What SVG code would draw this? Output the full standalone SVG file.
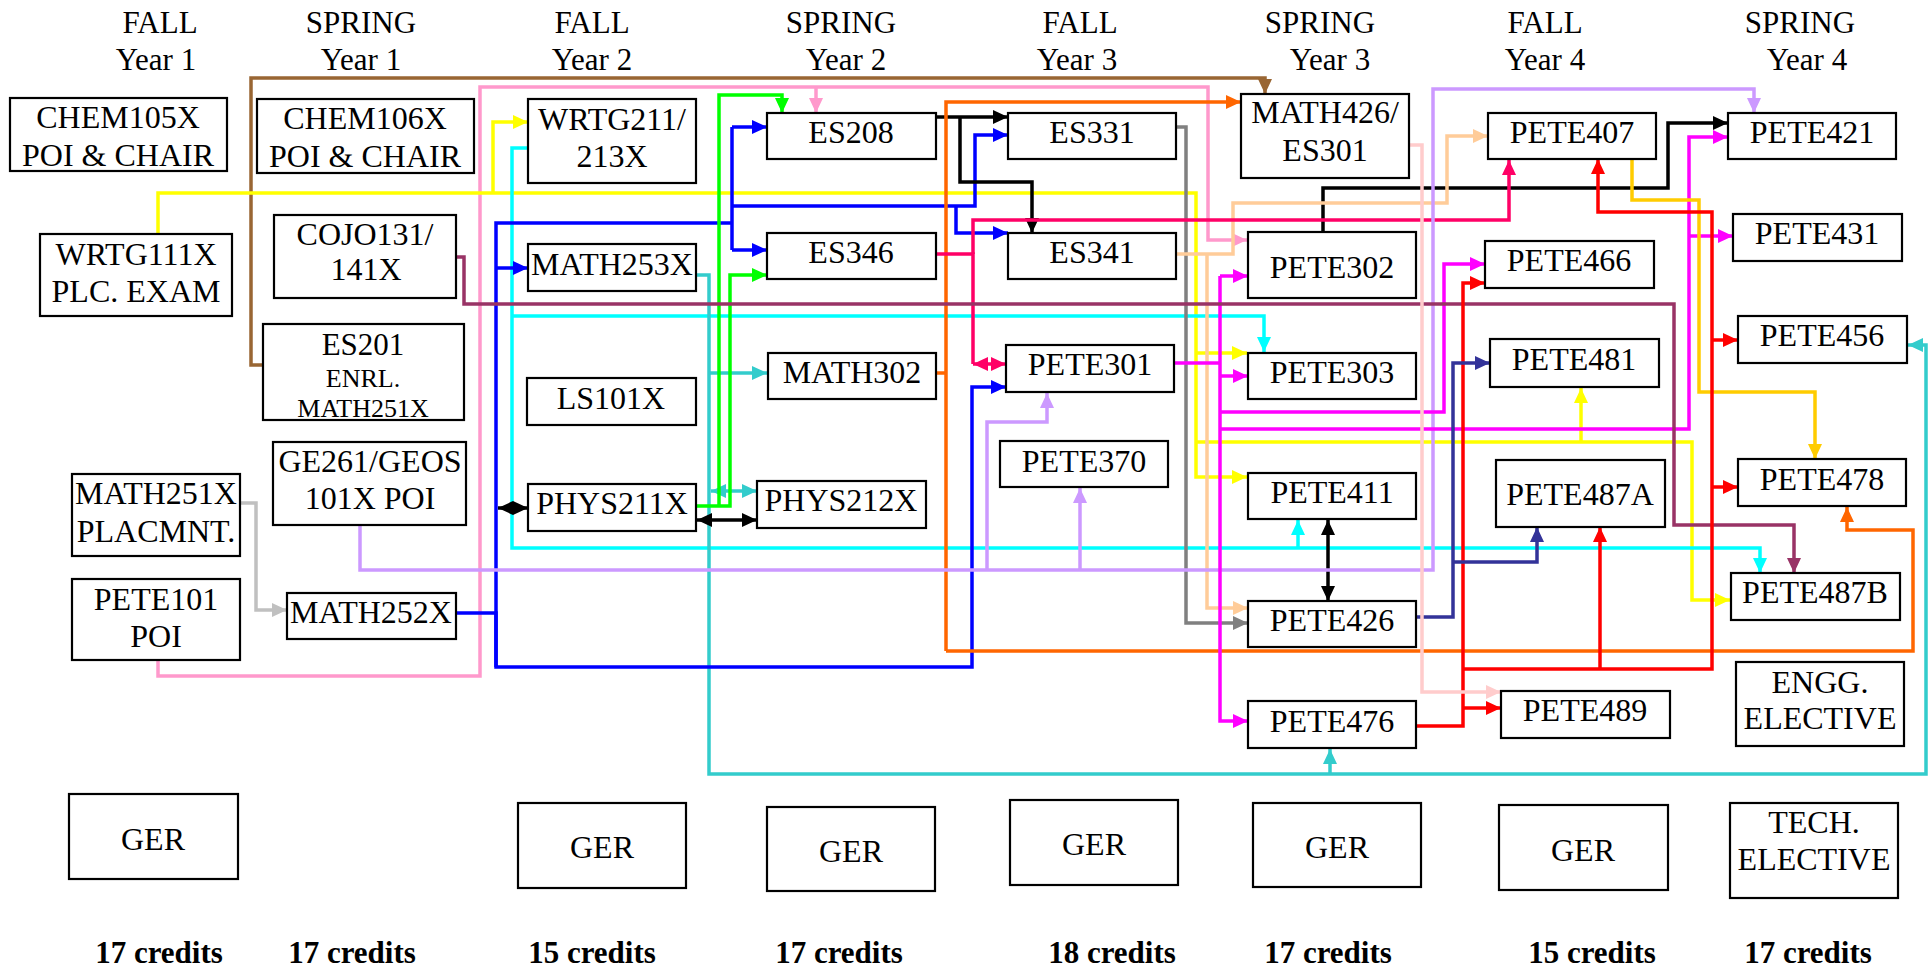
<svg xmlns="http://www.w3.org/2000/svg" width="1932" height="971" viewBox="0 0 1932 971" font-family="Liberation Serif, DejaVu Serif, serif">
<style>
.bg{fill:#fff}
.n rect{fill:#fff;stroke:#000;stroke-width:2.2}
text{font-family:'Liberation Serif','DejaVu Serif',serif;fill:#000;text-anchor:middle}
.t{font-size:32px}
.s{font-size:26px}
.h{font-size:31px}
.cr{font-size:31px;font-weight:bold}
.c path{fill:none;stroke-width:3.5;stroke-linejoin:miter}
</style>
<defs>
<marker id="m-brown" viewBox="0 0 15 14" refX="15" refY="7" markerWidth="15" markerHeight="14" markerUnits="userSpaceOnUse" orient="auto-start-reverse"><path d="M0,0L15,7L0,14z" fill="#996633"/></marker>
<marker id="m-pink" viewBox="0 0 15 14" refX="15" refY="7" markerWidth="15" markerHeight="14" markerUnits="userSpaceOnUse" orient="auto-start-reverse"><path d="M0,0L15,7L0,14z" fill="#FF99CC"/></marker>
<marker id="m-yellow" viewBox="0 0 15 14" refX="15" refY="7" markerWidth="15" markerHeight="14" markerUnits="userSpaceOnUse" orient="auto-start-reverse"><path d="M0,0L15,7L0,14z" fill="#FFFF00"/></marker>
<marker id="m-cyan" viewBox="0 0 15 14" refX="15" refY="7" markerWidth="15" markerHeight="14" markerUnits="userSpaceOnUse" orient="auto-start-reverse"><path d="M0,0L15,7L0,14z" fill="#00FFFF"/></marker>
<marker id="m-teal" viewBox="0 0 15 14" refX="15" refY="7" markerWidth="15" markerHeight="14" markerUnits="userSpaceOnUse" orient="auto-start-reverse"><path d="M0,0L15,7L0,14z" fill="#33CCCC"/></marker>
<marker id="m-blue" viewBox="0 0 15 14" refX="15" refY="7" markerWidth="15" markerHeight="14" markerUnits="userSpaceOnUse" orient="auto-start-reverse"><path d="M0,0L15,7L0,14z" fill="#0000FF"/></marker>
<marker id="m-green" viewBox="0 0 15 14" refX="15" refY="7" markerWidth="15" markerHeight="14" markerUnits="userSpaceOnUse" orient="auto-start-reverse"><path d="M0,0L15,7L0,14z" fill="#00FF00"/></marker>
<marker id="m-black" viewBox="0 0 15 14" refX="15" refY="7" markerWidth="15" markerHeight="14" markerUnits="userSpaceOnUse" orient="auto-start-reverse"><path d="M0,0L15,7L0,14z" fill="#000000"/></marker>
<marker id="m-orange" viewBox="0 0 15 14" refX="15" refY="7" markerWidth="15" markerHeight="14" markerUnits="userSpaceOnUse" orient="auto-start-reverse"><path d="M0,0L15,7L0,14z" fill="#FF6600"/></marker>
<marker id="m-gray" viewBox="0 0 15 14" refX="15" refY="7" markerWidth="15" markerHeight="14" markerUnits="userSpaceOnUse" orient="auto-start-reverse"><path d="M0,0L15,7L0,14z" fill="#808080"/></marker>
<marker id="m-silver" viewBox="0 0 15 14" refX="15" refY="7" markerWidth="15" markerHeight="14" markerUnits="userSpaceOnUse" orient="auto-start-reverse"><path d="M0,0L15,7L0,14z" fill="#C0C0C0"/></marker>
<marker id="m-peach" viewBox="0 0 15 14" refX="15" refY="7" markerWidth="15" markerHeight="14" markerUnits="userSpaceOnUse" orient="auto-start-reverse"><path d="M0,0L15,7L0,14z" fill="#FFCC99"/></marker>
<marker id="m-crimson" viewBox="0 0 15 14" refX="15" refY="7" markerWidth="15" markerHeight="14" markerUnits="userSpaceOnUse" orient="auto-start-reverse"><path d="M0,0L15,7L0,14z" fill="#FF0066"/></marker>
<marker id="m-lav" viewBox="0 0 15 14" refX="15" refY="7" markerWidth="15" markerHeight="14" markerUnits="userSpaceOnUse" orient="auto-start-reverse"><path d="M0,0L15,7L0,14z" fill="#CC99FF"/></marker>
<marker id="m-mag" viewBox="0 0 15 14" refX="15" refY="7" markerWidth="15" markerHeight="14" markerUnits="userSpaceOnUse" orient="auto-start-reverse"><path d="M0,0L15,7L0,14z" fill="#FF00FF"/></marker>
<marker id="m-maroon" viewBox="0 0 15 14" refX="15" refY="7" markerWidth="15" markerHeight="14" markerUnits="userSpaceOnUse" orient="auto-start-reverse"><path d="M0,0L15,7L0,14z" fill="#993366"/></marker>
<marker id="m-gold" viewBox="0 0 15 14" refX="15" refY="7" markerWidth="15" markerHeight="14" markerUnits="userSpaceOnUse" orient="auto-start-reverse"><path d="M0,0L15,7L0,14z" fill="#FFCC00"/></marker>
<marker id="m-red" viewBox="0 0 15 14" refX="15" refY="7" markerWidth="15" markerHeight="14" markerUnits="userSpaceOnUse" orient="auto-start-reverse"><path d="M0,0L15,7L0,14z" fill="#FF0000"/></marker>
<marker id="m-navy" viewBox="0 0 15 14" refX="15" refY="7" markerWidth="15" markerHeight="14" markerUnits="userSpaceOnUse" orient="auto-start-reverse"><path d="M0,0L15,7L0,14z" fill="#333399"/></marker>
<marker id="m-lpink" viewBox="0 0 15 14" refX="15" refY="7" markerWidth="15" markerHeight="14" markerUnits="userSpaceOnUse" orient="auto-start-reverse"><path d="M0,0L15,7L0,14z" fill="#FFCCCC"/></marker>
</defs>
<rect class="bg" x="0" y="0" width="1932" height="971"/>

<g id="headers">
<text class="h" x="160" y="33">FALL</text><text class="h" x="156" y="70">Year 1</text>
<text class="h" x="361" y="33">SPRING</text><text class="h" x="361" y="70">Year 1</text>
<text class="h" x="592" y="33">FALL</text><text class="h" x="592" y="70">Year 2</text>
<text class="h" x="841" y="33">SPRING</text><text class="h" x="846" y="70">Year 2</text>
<text class="h" x="1080" y="33">FALL</text><text class="h" x="1077" y="70">Year 3</text>
<text class="h" x="1320" y="33">SPRING</text><text class="h" x="1330" y="70">Year 3</text>
<text class="h" x="1545" y="33">FALL</text><text class="h" x="1545" y="70">Year 4</text>
<text class="h" x="1800" y="33">SPRING</text><text class="h" x="1807" y="70">Year 4</text>
</g>

<g id="connectors" class="c">
<path stroke="#996633" d="M263,365H251V78H1265V94" marker-end="url(#m-brown)"/>
<path stroke="#FF99CC" d="M158,660V676H480V87H1208V240H1247" marker-end="url(#m-pink)"/>
<path stroke="#FF99CC" d="M816,87V113" marker-end="url(#m-pink)"/>
<path stroke="#FFFF00" d="M158,234V193H1196V477H1247" marker-end="url(#m-yellow)"/>
<path stroke="#FFFF00" d="M493,193V122H528" marker-end="url(#m-yellow)"/>
<path stroke="#FFFF00" d="M1196,353H1247" marker-end="url(#m-yellow)"/>
<path stroke="#FFFF00" d="M1196,442H1692V600H1730" marker-end="url(#m-yellow)"/>
<path stroke="#FFFF00" d="M1581,442V388" marker-end="url(#m-yellow)"/>
<path stroke="#00FFFF" d="M528,148H512V548H1760V573" marker-end="url(#m-cyan)"/>
<path stroke="#00FFFF" d="M512,316H1264V352" marker-end="url(#m-cyan)"/>
<path stroke="#00FFFF" d="M1298,548V520" marker-end="url(#m-cyan)"/>
<path stroke="#33CCCC" d="M696,275H709V774H1926V345H1908" marker-end="url(#m-teal)"/>
<path stroke="#33CCCC" d="M709,373H767" marker-end="url(#m-teal)"/>
<path stroke="#33CCCC" d="M711,491H757" marker-start="url(#m-teal)" marker-end="url(#m-teal)"/>
<path stroke="#33CCCC" d="M1330,774V749" marker-end="url(#m-teal)"/>
<path stroke="#0000FF" d="M456,613H496V667H972V387H1006" marker-end="url(#m-blue)"/>
<path stroke="#0000FF" d="M496,667V223H732"/>
<path stroke="#0000FF" d="M496,268H528" marker-end="url(#m-blue)"/>
<path stroke="#0000FF" d="M732,127V250"/>
<path stroke="#0000FF" d="M732,127H767" marker-end="url(#m-blue)"/>
<path stroke="#0000FF" d="M732,250H767" marker-end="url(#m-blue)"/>
<path stroke="#0000FF" d="M732,206H975V135H1008" marker-end="url(#m-blue)"/>
<path stroke="#0000FF" d="M956,206V233H1008" marker-end="url(#m-blue)"/>
<path stroke="#00FF00" d="M697,506H730V275H767" marker-end="url(#m-green)"/>
<path stroke="#00FF00" d="M719,506V95H782V113" marker-end="url(#m-green)"/>
<path stroke="#000000" d="M498,508H528" marker-start="url(#m-black)" marker-end="url(#m-black)"/>
<path stroke="#000000" d="M697,520H757" marker-start="url(#m-black)" marker-end="url(#m-black)"/>
<path stroke="#000000" d="M1328,520V601" marker-start="url(#m-black)" marker-end="url(#m-black)"/>
<path stroke="#000000" d="M936,117H1008" marker-end="url(#m-black)"/>
<path stroke="#000000" d="M960,117V182H1032V233" marker-end="url(#m-black)"/>
<path stroke="#000000" d="M1323,232V188H1668V123H1728" marker-end="url(#m-black)"/>
<path stroke="#FF6600" d="M936,373H946"/>
<path stroke="#FF6600" d="M946,651V102H1241" marker-end="url(#m-orange)"/>
<path stroke="#FF6600" d="M946,651H1913V530H1847V507" marker-end="url(#m-orange)"/>
<path stroke="#808080" d="M1176,127H1186V623H1248" marker-end="url(#m-gray)"/>
<path stroke="#C0C0C0" d="M240,503H256V610H287" marker-end="url(#m-silver)"/>
<path stroke="#FFCC99" d="M1176,254H1233V203H1447V136H1488" marker-end="url(#m-peach)"/>
<path stroke="#FFCC99" d="M1207,254V608H1248" marker-end="url(#m-peach)"/>
<path stroke="#FF0066" d="M936,254H973V364"/>
<path stroke="#FF0066" d="M973,364H1006" marker-start="url(#m-crimson)" marker-end="url(#m-crimson)"/>
<path stroke="#FF0066" d="M973,254V220H1509V160" marker-end="url(#m-crimson)"/>
<path stroke="#CC99FF" d="M360,526V570H1433V89H1754V113" marker-end="url(#m-lav)"/>
<path stroke="#CC99FF" d="M987,570V422H1047V393" marker-end="url(#m-lav)"/>
<path stroke="#CC99FF" d="M1080,570V488" marker-end="url(#m-lav)"/>
<path stroke="#FF00FF" d="M1174,363H1220"/>
<path stroke="#FF00FF" d="M1220,276V721H1248" marker-end="url(#m-mag)"/>
<path stroke="#FF00FF" d="M1220,276H1248" marker-end="url(#m-mag)"/>
<path stroke="#FF00FF" d="M1220,376H1248" marker-end="url(#m-mag)"/>
<path stroke="#FF00FF" d="M1220,412H1444V264H1485" marker-end="url(#m-mag)"/>
<path stroke="#FF00FF" d="M1220,429H1689V137H1728" marker-end="url(#m-mag)"/>
<path stroke="#FF00FF" d="M1689,236H1733" marker-end="url(#m-mag)"/>
<path stroke="#993366" d="M456,257H464V304H1674V525H1794V573" marker-end="url(#m-maroon)"/>
<path stroke="#FFCC00" d="M1632,159V200H1699V392H1815V459" marker-end="url(#m-gold)"/>
<path stroke="#FF0000" d="M1416,726H1463V283H1485" marker-end="url(#m-red)"/>
<path stroke="#FF0000" d="M1463,708H1501" marker-end="url(#m-red)"/>
<path stroke="#FF0000" d="M1463,669H1712V212H1598V159" marker-end="url(#m-red)"/>
<path stroke="#FF0000" d="M1712,340H1738" marker-end="url(#m-red)"/>
<path stroke="#FF0000" d="M1712,487H1738" marker-end="url(#m-red)"/>
<path stroke="#FF0000" d="M1600,669V527" marker-end="url(#m-red)"/>
<path stroke="#333399" d="M1416,617H1453V363H1490" marker-end="url(#m-navy)"/>
<path stroke="#333399" d="M1453,562H1537V527" marker-end="url(#m-navy)"/>
<path stroke="#FFCCCC" d="M1409,145H1422V692H1501" marker-end="url(#m-lpink)"/>
</g>

<g id="n-chem105x" class="n"><rect x="10" y="98" width="217" height="73"/><text class="t" x="118" y="128">CHEM105X</text><text class="t" x="118" y="166">POI &amp; CHAIR</text></g>
<g id="n-chem106x" class="n"><rect x="257" y="99" width="217" height="74"/><text class="t" x="365" y="129">CHEM106X</text><text class="t" x="365" y="167">POI &amp; CHAIR</text></g>
<g id="n-wrtg111x" class="n"><rect x="40" y="234" width="192" height="82"/><text class="t" x="136" y="265">WRTG111X</text><text class="t" x="136" y="302">PLC. EXAM</text></g>
<g id="n-cojo131" class="n"><rect x="274" y="215" width="182" height="83"/><text class="t" x="365" y="245">COJO131/</text><text class="t" x="366" y="280">141X</text></g>
<g id="n-es201" class="n"><rect x="263" y="324" width="201" height="96"/><text class="h" x="363" y="355">ES201</text><text class="s" x="363" y="387">ENRL.</text><text class="s" x="363" y="417">MATH251X</text></g>
<g id="n-ge261" class="n"><rect x="273" y="442" width="193" height="83"/><text class="t" x="370" y="472">GE261/GEOS</text><text class="t" x="370" y="509">101X POI</text></g>
<g id="n-math251x" class="n"><rect x="72" y="474" width="168" height="82"/><text class="t" x="156" y="504">MATH251X</text><text class="t" x="156" y="542">PLACMNT.</text></g>
<g id="n-pete101" class="n"><rect x="72" y="579" width="168" height="81"/><text class="t" x="156" y="610">PETE101</text><text class="t" x="156" y="647">POI</text></g>
<g id="n-math252x" class="n"><rect x="287" y="593" width="169" height="46"/><text class="t" x="371" y="623">MATH252X</text></g>
<g id="n-wrtg211" class="n"><rect x="528" y="99" width="168" height="84"/><text class="t" x="612" y="130">WRTG211/</text><text class="t" x="612" y="167">213X</text></g>
<g id="n-math253x" class="n"><rect x="528" y="244" width="168" height="47"/><text class="t" x="612" y="275">MATH253X</text></g>
<g id="n-ls101x" class="n"><rect x="527" y="378" width="169" height="47"/><text class="t" x="611" y="409">LS101X</text></g>
<g id="n-phys211x" class="n"><rect x="528" y="484" width="168" height="47"/><text class="t" x="612" y="514">PHYS211X</text></g>
<g id="n-es208" class="n"><rect x="767" y="113" width="169" height="46"/><text class="t" x="851" y="143">ES208</text></g>
<g id="n-es346" class="n"><rect x="767" y="233" width="169" height="46"/><text class="t" x="851" y="263">ES346</text></g>
<g id="n-math302" class="n"><rect x="768" y="353" width="168" height="46"/><text class="t" x="852" y="383">MATH302</text></g>
<g id="n-phys212x" class="n"><rect x="757" y="481" width="169" height="47"/><text class="t" x="841" y="511">PHYS212X</text></g>
<g id="n-es331" class="n"><rect x="1008" y="113" width="168" height="46"/><text class="t" x="1092" y="143">ES331</text></g>
<g id="n-es341" class="n"><rect x="1008" y="233" width="168" height="46"/><text class="t" x="1092" y="263">ES341</text></g>
<g id="n-pete301" class="n"><rect x="1006" y="345" width="168" height="47"/><text class="t" x="1090" y="375">PETE301</text></g>
<g id="n-pete370" class="n"><rect x="1000" y="441" width="168" height="46"/><text class="t" x="1084" y="472">PETE370</text></g>
<g id="n-math426" class="n"><rect x="1241" y="94" width="168" height="84"/><text class="t" x="1325" y="123">MATH426/</text><text class="t" x="1325" y="161">ES301</text></g>
<g id="n-pete302" class="n"><rect x="1248" y="232" width="168" height="66"/><text class="t" x="1332" y="278">PETE302</text></g>
<g id="n-pete303" class="n"><rect x="1248" y="353" width="168" height="46"/><text class="t" x="1332" y="383">PETE303</text></g>
<g id="n-pete411" class="n"><rect x="1248" y="473" width="168" height="46"/><text class="t" x="1332" y="503">PETE411</text></g>
<g id="n-pete426" class="n"><rect x="1248" y="601" width="168" height="46"/><text class="t" x="1332" y="631">PETE426</text></g>
<g id="n-pete476" class="n"><rect x="1248" y="701" width="168" height="47"/><text class="t" x="1332" y="732">PETE476</text></g>
<g id="n-pete407" class="n"><rect x="1488" y="113" width="168" height="46"/><text class="t" x="1572" y="143">PETE407</text></g>
<g id="n-pete466" class="n"><rect x="1485" y="241" width="169" height="47"/><text class="t" x="1569" y="271">PETE466</text></g>
<g id="n-pete481" class="n"><rect x="1490" y="339" width="169" height="48"/><text class="t" x="1574" y="370">PETE481</text></g>
<g id="n-pete487a" class="n"><rect x="1496" y="460" width="169" height="67"/><text class="t" x="1580" y="505">PETE487A</text></g>
<g id="n-pete489" class="n"><rect x="1501" y="691" width="169" height="47"/><text class="t" x="1585" y="721">PETE489</text></g>
<g id="n-pete421" class="n"><rect x="1728" y="113" width="168" height="46"/><text class="t" x="1812" y="143">PETE421</text></g>
<g id="n-pete431" class="n"><rect x="1733" y="214" width="169" height="47"/><text class="t" x="1817" y="244">PETE431</text></g>
<g id="n-pete456" class="n"><rect x="1738" y="316" width="169" height="47"/><text class="t" x="1822" y="346">PETE456</text></g>
<g id="n-pete478" class="n"><rect x="1738" y="459" width="168" height="47"/><text class="t" x="1822" y="490">PETE478</text></g>
<g id="n-pete487b" class="n"><rect x="1731" y="573" width="169" height="47"/><text class="t" x="1815" y="603">PETE487B</text></g>
<g id="n-engg" class="n"><rect x="1736" y="662" width="168" height="84"/><text class="t" x="1820" y="693">ENGG.</text><text class="t" x="1820" y="729">ELECTIVE</text></g>
<g id="n-ger1" class="n"><rect x="69" y="794" width="169" height="85"/><text class="t" x="153" y="850">GER</text></g>
<g id="n-ger2" class="n"><rect x="518" y="803" width="168" height="85"/><text class="t" x="602" y="858">GER</text></g>
<g id="n-ger3" class="n"><rect x="767" y="807" width="168" height="84"/><text class="t" x="851" y="862">GER</text></g>
<g id="n-ger4" class="n"><rect x="1010" y="800" width="168" height="85"/><text class="t" x="1094" y="855">GER</text></g>
<g id="n-ger5" class="n"><rect x="1253" y="803" width="168" height="84"/><text class="t" x="1337" y="858">GER</text></g>
<g id="n-ger6" class="n"><rect x="1499" y="805" width="169" height="85"/><text class="t" x="1583" y="861">GER</text></g>
<g id="n-tech" class="n"><rect x="1730" y="803" width="168" height="95"/><text class="t" x="1814" y="833">TECH.</text><text class="t" x="1814" y="870">ELECTIVE</text></g>

<g id="credits">
<text class="cr" x="159" y="963">17 credits</text>
<text class="cr" x="352" y="963">17 credits</text>
<text class="cr" x="592" y="963">15 credits</text>
<text class="cr" x="839" y="963">17 credits</text>
<text class="cr" x="1112" y="963">18 credits</text>
<text class="cr" x="1328" y="963">17 credits</text>
<text class="cr" x="1592" y="963">15 credits</text>
<text class="cr" x="1808" y="963">17 credits</text>
</g>
</svg>
